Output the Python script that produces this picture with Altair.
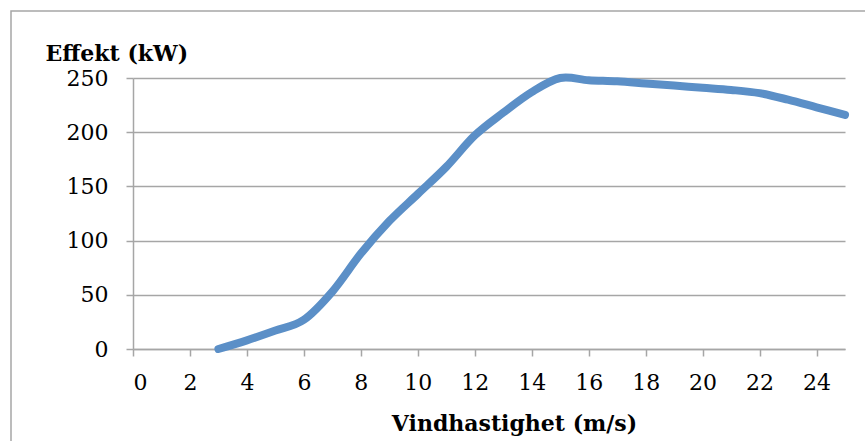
import altair as alt
import pandas as pd

# Wind turbine power curve: power output (kW) per wind speed (m/s)
wind_speed = [3, 4, 5, 6, 7, 8, 9, 10, 11, 12, 13, 14, 15, 16, 17, 18, 19, 20, 21, 22, 23, 24, 25]
power_kw = [0, 8, 17, 27, 53, 88, 118, 143, 168, 197, 218, 237, 250, 248, 247, 245, 243, 241, 239, 236, 230, 223, 216]

x_ticks = [0, 2, 4, 6, 8, 10, 12, 14, 16, 18, 20, 22, 24]
y_ticks = [0, 50, 100, 150, 200, 250]

df = pd.DataFrame({"speed": wind_speed, "power": power_kw})

GRID = "#a6a6a6"
SERIF = "DejaVu Serif"

# Outer chart frame
frame = alt.Chart(pd.DataFrame({"k": [0]})).mark_rect(
    fillOpacity=0, stroke=GRID, strokeWidth=1.5
).encode(
    x=alt.value(-122), x2=alt.value(742), y=alt.value(-67), y2=alt.value(373)
)

curve = alt.Chart(df).mark_line(
    color="#5b8fc7", strokeWidth=8, interpolate="cardinal", strokeCap="round"
).encode(
    x=alt.X(
        "speed:Q",
        scale=alt.Scale(domain=[0, 25], nice=False),
        axis=alt.Axis(
            values=x_ticks, grid=False, title="Vindhastighet (m/s)",
            titleX=381, titleY=81, titleBaseline="alphabetic", titleAnchor=None,
            titleAlign="center", labelPadding=16, tickSize=7,
        ),
    ),
    y=alt.Y(
        "power:Q",
        scale=alt.Scale(domain=[0, 250], nice=False),
        axis=alt.Axis(
            values=y_ticks, grid=True, title="Effekt (kW)",
            titleAngle=0, titleX=-88, titleY=-18, titleAlign="left",
            titleBaseline="alphabetic", labelPadding=18, tickSize=7,
        ),
    ),
)

chart = alt.layer(frame, curve).properties(
    width=712, height=271,
    autosize=alt.AutoSizeParams(type="none"),
    padding={"left": 133, "top": 78, "right": 20, "bottom": 92},
).configure_view(
    stroke=None
).configure_axis(
    domainColor=GRID, domainWidth=1.5, tickColor=GRID, tickWidth=1.5,
    gridColor=GRID, gridWidth=1.5,
    labelFont=SERIF, labelFontSize=22, labelColor="#000000",
    titleFont=SERIF, titleFontSize=22, titleFontWeight="bold", titleColor="#000000",
)

chart.save("out.html", embed_options={"renderer": "svg", "actions": False})
